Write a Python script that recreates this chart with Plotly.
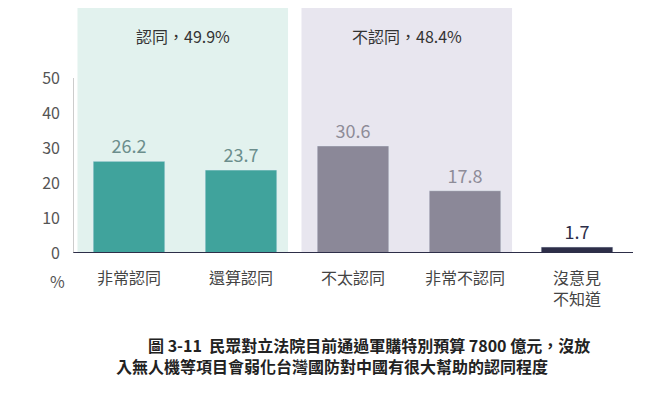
import plotly.graph_objects as go

cats = ["非常認同", "還算認同", "不太認同", "非常不認同", "沒意見<br>不知道"]
vals = [26.2, 23.7, 30.6, 17.8, 1.7]
colors = ["#40a39c", "#40a39c", "#8b8898", "#8b8898", "#2d2e48"]
label_colors = ["#6b8e8c", "#6b8e8c", "#8e8c98", "#8e8c98", "#2d2e48"]
yticks = [0, 10, 20, 30, 40, 50]
groups = [("認同，49.9%", -0.46, 1.42, "#e2f2ee"), ("不認同，48.4%", 1.54, 3.42, "#e8e6ef")]

F = "Noto Sans CJK TC"
fig = go.Figure()
fig.add_bar(x=list(range(5)), y=vals, marker_color=colors, width=0.64,
            text=[f"{v}" for v in vals], textposition="outside",
            textfont=dict(size=18, color=label_colors, family=F), cliponaxis=False)
for txt, x0, x1, c in groups:
    fig.add_shape(type="rect", x0=x0, x1=x1, y0=0, y1=70, fillcolor=c, line_width=0, layer="below")
    fig.add_annotation(x=(x0 + x1) / 2, y=62, text=txt, showarrow=False,
                       font=dict(size=16, color="#333", family=F))
fig.add_shape(type="line", x0=-0.5, x1=4.5, y0=0, y1=0, line=dict(color="#2d2e48", width=2))
fig.add_shape(type="line", x0=-0.5, x1=-0.5, y0=0, y1=50, line=dict(color="#999", width=1))
fig.add_annotation(xref="paper", yref="paper", x=-0.045, y=-0.17, text="%", showarrow=False,
                   font=dict(size=16, color="#555", family=F))
fig.add_annotation(xref="paper", yref="paper", x=0.5, y=-0.32, xanchor="center", yanchor="top",
                   text="<b>　　圖 3-11  民眾對立法院目前通過軍購特別預算 7800 億元，沒放<br>入無人機等項目會弱化台灣國防對中國有很大幫助的認同程度</b>",
                   showarrow=False, align="left", font=dict(size=16, color="#222", family=F))
fig.update_layout(
    width=645, height=404, margin=dict(l=65, r=20, t=0, b=159, autoexpand=False),
    plot_bgcolor="white", paper_bgcolor="white", showlegend=False, bargap=0.36,
    xaxis=dict(tickvals=list(range(5)), ticktext=cats, range=[-0.5, 4.5], showgrid=False,
               tickfont=dict(size=16, color="#444", family=F), ticks="", zeroline=False,
               ticklabelstandoff=14, automargin=False),
    yaxis=dict(range=[0, 70], tickvals=yticks, showgrid=False, zeroline=False,
               tickfont=dict(size=16, color="#555", family=F), ticks="", automargin=False,
               ticklabelstandoff=12),
)
fig.write_html("out.html")
